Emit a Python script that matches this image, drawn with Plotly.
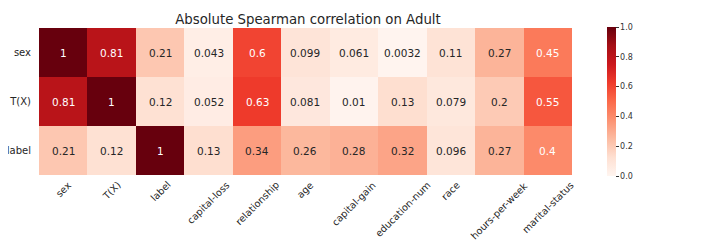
import plotly.graph_objects as go

cols = ["sex", "T(X)", "label", "capital-loss", "relationship", "age",
        "capital-gain", "education-num", "race", "hours-per-week", "marital-status"]
rows = ["sex", "T(X)", "label"]
sex_vals = [1, 0.81, 0.21, 0.043, 0.6, 0.099, 0.061, 0.0032, 0.11, 0.27, 0.45]
tx_vals = [0.81, 1, 0.12, 0.052, 0.63, 0.081, 0.01, 0.13, 0.079, 0.2, 0.55]
label_vals = [0.21, 0.12, 1, 0.13, 0.34, 0.26, 0.28, 0.32, 0.096, 0.27, 0.4]
z = [sex_vals, tx_vals, label_vals]
cbar_ticks = [0.0, 0.2, 0.4, 0.6, 0.8, 1.0]

FONT = "DejaVu Sans"
# page body has an 8px default margin; figure is sized/shifted to compensate
W, H, OFF = 712, 232, 8

fig = go.Figure(go.Heatmap(
    z=z, x=cols, y=rows, zmin=0, zmax=1, colorscale="Reds", xgap=0, ygap=0,
    colorbar=dict(thickness=9, len=149, lenmode="pixels", x=1.055, xanchor="left",
                  y=0.5, yanchor="middle", outlinewidth=0, xpad=0, ypad=0,
                  tickvals=cbar_ticks, ticktext=[f"{t:.1f}" for t in cbar_ticks],
                  ticks="outside", ticklen=3, tickcolor="#333",
                  tickfont=dict(family=FONT, size=8, color="#333")),
))

annotations = []
for r, row in zip(rows, z):
    for c, v in zip(cols, row):
        annotations.append(dict(
            x=c, y=r, text=f"{v:.2g}", showarrow=False,
            font=dict(family=FONT, size=10.5, color="white" if v > 0.37 else "#262626")))
# x tick labels: rotated 45 deg, bounding box centred under each column
for c in cols:
    annotations.append(dict(
        x=c, xref="x", y=0, yref="paper", text=c, showarrow=False, textangle=-45,
        xanchor="center", yanchor="top", yshift=-3, borderpad=0,
        font=dict(family=FONT, size=9.7, color="#262626")))

fig.update_layout(
    width=W, height=H,
    margin=dict(l=39 - OFF, r=143, t=28 - OFF, b=65, autoexpand=False),
    plot_bgcolor="white", paper_bgcolor="white",
    title=dict(text="Absolute Spearman correlation on Adult", x=(308 - OFF) / W,
               xanchor="center", y=1 - (19 - OFF) / H, yanchor="middle",
               font=dict(family=FONT, size=13.3, color="#262626")),
    annotations=annotations,
    font=dict(family=FONT, color="#262626"),
)
fig.update_xaxes(showticklabels=False, showgrid=False, ticks="", zeroline=False,
                 automargin=False)
fig.update_yaxes(autorange="reversed", tickfont=dict(size=10, family=FONT), showgrid=False,
                 ticks="outside", ticklen=5, tickcolor="rgba(0,0,0,0)", zeroline=False,
                 automargin=False)
fig.write_html("out.html")
